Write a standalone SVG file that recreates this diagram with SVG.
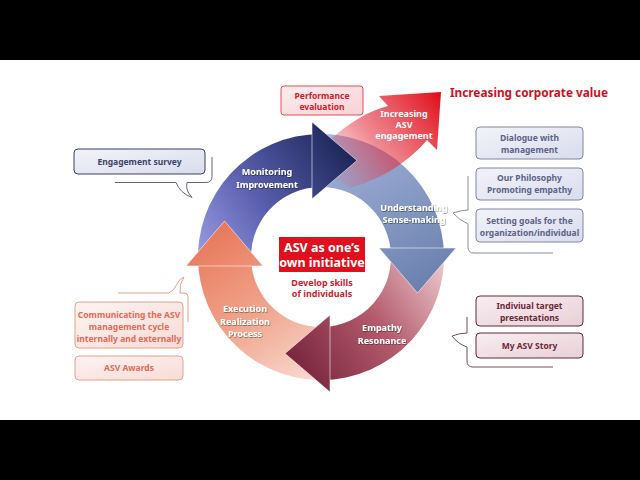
<svg xmlns="http://www.w3.org/2000/svg" width="640" height="480" viewBox="0 0 640 480">
<defs>
<style>
text{font-family:"Noto Sans","Open Sans","Liberation Sans",sans-serif;font-weight:bold;text-anchor:middle}
.lbl{fill:#fff;font-size:9px}
.bt{font-size:8.5px}
.blue{fill:#5b6386}
.navy{fill:#3c4466}
.mar{fill:#6a2838}
.sal{fill:#e06b58}
.red{fill:#d2202c}
.brk{fill:#fff;stroke-width:1}
</style>
<linearGradient id="gT" gradientUnits="userSpaceOnUse" x1="200" y1="265" x2="357" y2="160">
<stop offset="0" stop-color="#9c9ee4"/><stop offset="0.45" stop-color="#5a5eae"/><stop offset="1" stop-color="#1c2657"/>
</linearGradient>
<linearGradient id="gR" gradientUnits="userSpaceOnUse" x1="330" y1="140" x2="420" y2="293">
<stop offset="0" stop-color="#a3b3da"/><stop offset="1" stop-color="#6a80ad"/>
</linearGradient>
<linearGradient id="gB" gradientUnits="userSpaceOnUse" x1="445" y1="250" x2="285" y2="360">
<stop offset="0" stop-color="#f0d2d6"/><stop offset="0.5" stop-color="#b45a6c"/><stop offset="1" stop-color="#76243c"/>
</linearGradient>
<linearGradient id="gL" gradientUnits="userSpaceOnUse" x1="330" y1="385" x2="224" y2="221">
<stop offset="0" stop-color="#fbe2dc"/><stop offset="0.5" stop-color="#f0a68e"/><stop offset="1" stop-color="#e8785a"/>
</linearGradient>
<linearGradient id="gRed" gradientUnits="userSpaceOnUse" x1="335" y1="178" x2="440" y2="95">
<stop offset="0" stop-color="#e8404c" stop-opacity="0.1"/><stop offset="0.4" stop-color="#e42a38" stop-opacity="0.55"/><stop offset="1" stop-color="#e0101c"/>
</linearGradient>
<linearGradient id="fBlue" x1="0" y1="0" x2="1" y2="1">
<stop offset="0" stop-color="#f2f3f9"/><stop offset="1" stop-color="#d9dced"/>
</linearGradient>
<linearGradient id="fMar" x1="0" y1="0" x2="1" y2="1">
<stop offset="0" stop-color="#f8edf0"/><stop offset="1" stop-color="#e8d0d7"/>
</linearGradient>
<linearGradient id="fSal" x1="0" y1="0" x2="1" y2="1">
<stop offset="0" stop-color="#fdf3f1"/><stop offset="1" stop-color="#f7dcd6"/>
</linearGradient>
<linearGradient id="fRed" x1="0" y1="0" x2="1" y2="1">
<stop offset="0" stop-color="#fdeced"/><stop offset="1" stop-color="#f8d2d6"/>
</linearGradient>
<filter id="sh" x="-20%" y="-20%" width="140%" height="140%">
<feDropShadow dx="0.6" dy="0.8" stdDeviation="0.7" flood-color="#000" flood-opacity="0.45"/>
</filter>
</defs>

<rect x="0" y="0" width="640" height="480" fill="#000"/>
<rect x="0" y="60" width="640" height="360" fill="#fff"/>

<g id="connectors">
<path class="brk" stroke="#666a78" d="M115,182.5 H176 Q180,193 192,197.5 Q185,190 187,182.5 H206 Q212,182.5 212,176.5 V157"/>
<path class="brk" stroke="#8a8d9c" fill="none" d="M468,176 V210 Q462,210 453,213 Q459,220 468,224 V247 Q468,253 474,253 H553"/>
<path class="brk" stroke="#7a4a58" fill="none" d="M467,317 V333 Q460,333 452,336 Q458,344 467,347 V361 Q467,367 473,367 H553"/>
<path class="brk" stroke="#e0a090" d="M118,293 H169 Q175,290 177,284 Q179,279 184,277 Q179,284 180,293 H184 Q188,293 188,297 V322"/>
</g>

<g id="cycle">
<path fill="url(#gT)" d="M198.33,266 A123,123 0 0 1 321,134 L321,187 A70,70 0 0 0 251.58,266 Z"/>
<path fill="url(#gR)" d="M312,134.33 A123,123 0 0 1 444,257 L391,257 A70,70 0 0 0 312,187.58 Z"/>
<path fill="url(#gB)" d="M443.67,248 A123,123 0 0 1 321,380 L321,327 A70,70 0 0 0 390.42,248 Z"/>
<path fill="url(#gL)" d="M330,379.67 A123,123 0 0 1 198,257 L251,257 A70,70 0 0 0 330,326.42 Z"/>
</g>

<g id="arrow-engagement">
<path fill="url(#gRed)" d="M330,140 C350,122 368,111 388,106 L379,96 L441,92 L437,150 L427,140 C410,160 385,178 350,188 L335,180 Z"/>
<text class="lbl" x="404" y="117">Increasing</text>
<text class="lbl" x="404" y="128">ASV</text>
<text class="lbl" x="404" y="139">engagement</text>
</g>

<g id="heads" stroke="#fff" stroke-width="0.8" stroke-opacity="0.7">
<polygon fill="url(#gR)" points="456,248 417.5,293 379,248"/>
<polygon fill="url(#gB)" points="330,392 285,353.5 330,315"/>
<polygon fill="url(#gL)" points="186,266 224.5,221 263,266"/>
<polygon fill="url(#gT)" points="312,122 357,160.5 312,199"/>
</g>

<g id="monitoring" filter="url(#sh)">
<text class="lbl" x="267" y="175">Monitoring</text>
<text class="lbl" x="267" y="188">Improvement</text>
</g>
<g id="understanding" filter="url(#sh)">
<text class="lbl" x="414" y="211">Understanding</text>
<text class="lbl" x="414" y="223">Sense-making</text>
</g>
<g id="empathy" filter="url(#sh)">
<text class="lbl" x="382" y="331">Empathy</text>
<text class="lbl" x="382" y="344">Resonance</text>
</g>
<g id="execution" filter="url(#sh)">
<text class="lbl" x="245" y="312">Execution</text>
<text class="lbl" x="245" y="325">Realization</text>
<text class="lbl" x="245" y="337">Process</text>
</g>

<g id="center">
<rect x="279" y="237" width="86" height="35" fill="#e0101e"/>
<text x="322" y="251.5" fill="#fff" font-size="12.5">ASV as one’s</text>
<text x="322" y="266.5" fill="#fff" font-size="12.5">own initiative</text>
<text class="red" x="322" y="286" font-size="9">Develop skills</text>
<text class="red" x="322" y="297" font-size="9">of individuals</text>
</g>

<g id="title">
<text x="529" y="97" fill="#d0121b" font-size="11.8">Increasing corporate value</text>
</g>

<g id="performance">
<rect x="281" y="86" width="82" height="29" rx="3" fill="url(#fRed)" stroke="#d8505a"/>
<text class="red bt" x="322" y="99">Performance</text>
<text class="red bt" x="322" y="110">evaluation</text>
</g>

<g id="engagement-survey">
<rect x="74" y="149" width="131" height="25" rx="4" fill="url(#fBlue)" stroke="#3a4060"/>
<text class="navy bt" x="139.5" y="165">Engagement survey</text>
</g>

<g id="dialogue">
<rect x="476" y="127" width="107" height="32" rx="4" fill="url(#fBlue)" stroke="#80869e"/>
<text class="blue bt" x="529.5" y="141">Dialogue with</text>
<text class="blue bt" x="529.5" y="152.5">management</text>
</g>
<g id="philosophy">
<rect x="476" y="168" width="107" height="32" rx="4" fill="url(#fBlue)" stroke="#80869e"/>
<text class="blue bt" x="529.5" y="181">Our Philosophy</text>
<text class="blue bt" x="529.5" y="193">Promoting empathy</text>
</g>
<g id="goals">
<rect x="476" y="209" width="107" height="33" rx="4" fill="url(#fBlue)" stroke="#80869e"/>
<text class="blue bt" x="529.5" y="224">Setting goals for the</text>
<text class="blue bt" x="529.5" y="235.5">organization/individual</text>
</g>

<g id="target">
<rect x="476" y="296" width="107" height="30" rx="4" fill="url(#fMar)" stroke="#5e2a3a"/>
<text class="mar bt" x="529.5" y="309">Indiviual  target</text>
<text class="mar bt" x="529.5" y="320.5">presentations</text>
</g>
<g id="story">
<rect x="476" y="333" width="107" height="25" rx="4" fill="url(#fMar)" stroke="#5e2a3a"/>
<text class="mar bt" x="529.5" y="349">My ASV Story</text>
</g>

<g id="communicating">
<rect x="75" y="302" width="108" height="46" rx="4" fill="url(#fSal)" stroke="#e4a090"/>
<text class="sal bt" x="129" y="318">Communicating the ASV</text>
<text class="sal bt" x="129" y="330">management cycle</text>
<text class="sal bt" x="129" y="341.5">internally and externally</text>
</g>
<g id="awards">
<rect x="75" y="356" width="108" height="24" rx="4" fill="url(#fSal)" stroke="#e4a090"/>
<text class="sal bt" x="129" y="371">ASV Awards</text>
</g>
</svg>
